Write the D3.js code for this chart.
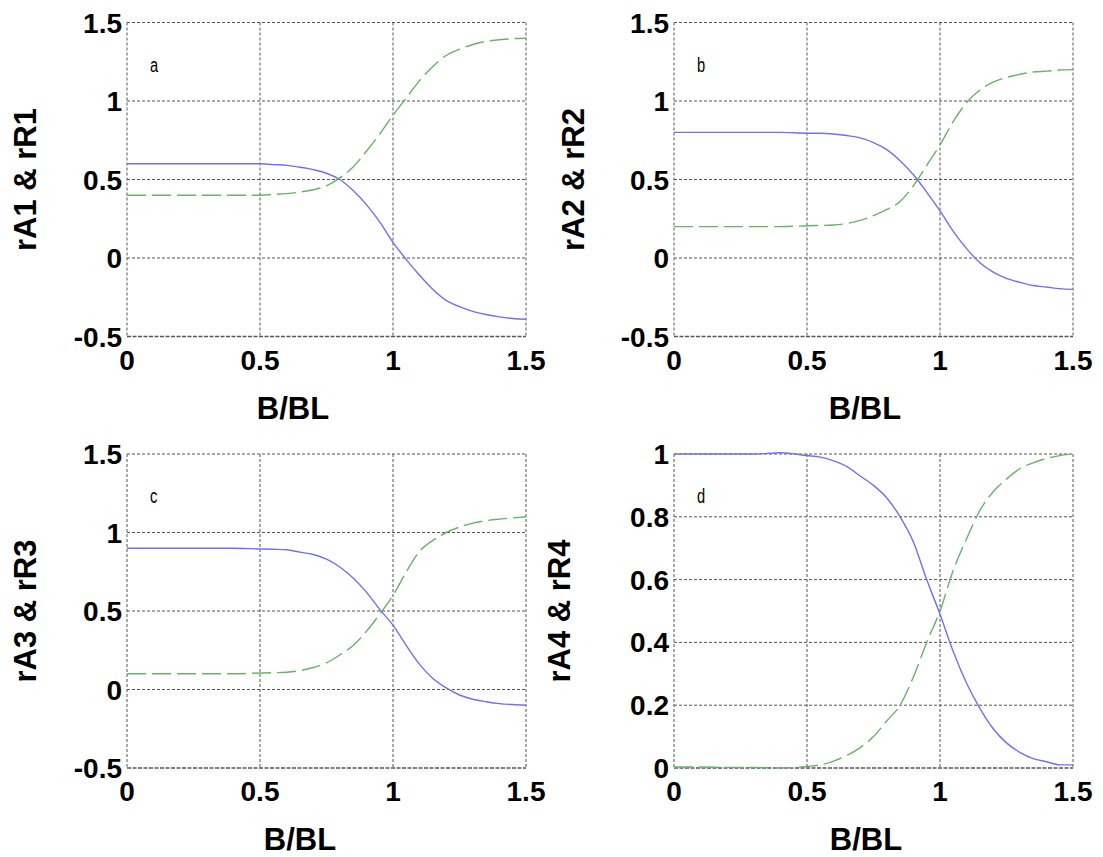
<!DOCTYPE html>
<html>
<head>
<meta charset="utf-8">
<script src="https://cdn.jsdelivr.net/npm/d3@7"></script>
<style>
  html, body { margin: 0; padding: 0; background: #fff; }
  svg { display: block; }
  text { font-family: "Liberation Sans", Arial, sans-serif; }
</style>
</head>
<body>
<svg id="chart" width="1103" height="857"></svg>
<script>
// ---- data ----
const xVals = [0, 0.1, 0.2, 0.3, 0.4, 0.5, 0.55, 0.6, 0.65, 0.7, 0.75, 0.8, 0.85, 0.9, 0.95,
               1.0, 1.05, 1.1, 1.15, 1.2, 1.25, 1.3, 1.35, 1.4, 1.45, 1.5];

const rA1 = [0.6, 0.6, 0.6, 0.6, 0.6, 0.6, 0.595, 0.59, 0.578, 0.563, 0.54, 0.5, 0.43, 0.34, 0.23,
             0.1, -0.01, -0.11, -0.2, -0.27, -0.31, -0.34, -0.36, -0.375, -0.385, -0.39];
const rR1 = [0.4, 0.4, 0.4, 0.4, 0.4, 0.4, 0.405, 0.41, 0.42, 0.435, 0.46, 0.51, 0.58, 0.68, 0.79,
             0.91, 1.02, 1.13, 1.22, 1.29, 1.33, 1.36, 1.38, 1.39, 1.397, 1.4];

const rA2 = [0.8, 0.8, 0.8, 0.8, 0.8, 0.795, 0.795, 0.79, 0.78, 0.765, 0.735, 0.69, 0.62, 0.53, 0.42,
             0.3, 0.17, 0.06, -0.03, -0.09, -0.13, -0.155, -0.175, -0.185, -0.195, -0.2];
const rR2 = [0.2, 0.2, 0.2, 0.2, 0.2, 0.205, 0.207, 0.21, 0.22, 0.24, 0.27, 0.31, 0.36, 0.46, 0.59,
             0.72, 0.87, 0.99, 1.07, 1.12, 1.15, 1.17, 1.185, 1.19, 1.197, 1.2];

const rA3 = [0.9, 0.9, 0.9, 0.9, 0.9, 0.895, 0.893, 0.89, 0.875, 0.86, 0.83, 0.78, 0.71, 0.62, 0.51,
             0.41, 0.28, 0.16, 0.07, 0.01, -0.035, -0.062, -0.078, -0.09, -0.096, -0.1];
const rR3 = [0.1, 0.1, 0.1, 0.1, 0.1, 0.105, 0.107, 0.11, 0.12, 0.14, 0.17, 0.22, 0.28, 0.37, 0.48,
             0.6, 0.75, 0.88, 0.95, 1.0, 1.035, 1.06, 1.075, 1.085, 1.093, 1.1];

const rA4 = [1.0, 1.0, 1.0, 1.0, 1.004, 0.995, 0.99, 0.978, 0.96, 0.93, 0.9, 0.86, 0.8, 0.72, 0.6,
             0.49, 0.37, 0.27, 0.19, 0.125, 0.08, 0.05, 0.03, 0.02, 0.01, 0.01];
const rR4 = [0.003, 0.003, 0.002, 0.002, 0.0, 0.005, 0.01, 0.022, 0.04, 0.065, 0.1, 0.15, 0.2, 0.29, 0.4,
             0.5, 0.63, 0.73, 0.82, 0.88, 0.92, 0.953, 0.972, 0.986, 0.995, 1.0];

const xTicks = [0, 0.5, 1, 1.5];
const yTicksABC = [-0.5, 0, 0.5, 1, 1.5];
const yTicksD = [0, 0.2, 0.4, 0.6, 0.8, 1];

const panels = [
  { letter: 'a', ylabel: 'rA1 & rR1', blue: rA1, green: rR1, yDomain: [-0.5, 1.5], yTicks: yTicksABC,
    left: 127, right: 526, top: 22.5, bottom: 336.5, ylabX: 25, xlabX: 293 },
  { letter: 'b', ylabel: 'rA2 & rR2', blue: rA2, green: rR2, yDomain: [-0.5, 1.5], yTicks: yTicksABC,
    left: 674, right: 1073, top: 22.5, bottom: 336.5, ylabX: 573, xlabX: 865 },
  { letter: 'c', ylabel: 'rA3 & rR3', blue: rA3, green: rR3, yDomain: [-0.5, 1.5], yTicks: yTicksABC,
    left: 127, right: 526, top: 454, bottom: 768, ylabX: 25, xlabX: 300 },
  { letter: 'd', ylabel: 'rA4 & rR4', blue: rA4, green: rR4, yDomain: [0, 1], yTicks: yTicksD,
    left: 674, right: 1073, top: 454, bottom: 768, ylabX: 559, xlabX: 866 }
];

const svg = d3.select('#chart');
const gridColor = '#555';

panels.forEach(p => {
  const x = d3.scaleLinear().domain([0, 1.5]).range([p.left, p.right]);
  const y = d3.scaleLinear().domain(p.yDomain).range([p.bottom, p.top]);
  const g = svg.append('g');

  // dashed grid (also serves as the box)
  g.selectAll('line.vg').data(xTicks).join('line')
    .attr('x1', d => x(d)).attr('x2', d => x(d))
    .attr('y1', p.top).attr('y2', p.bottom)
    .attr('stroke', gridColor).attr('stroke-width', 1)
    .attr('stroke-dasharray', '3,2');
  g.selectAll('line.hg').data(p.yTicks).join('line')
    .attr('x1', p.left).attr('x2', p.right)
    .attr('y1', d => y(d)).attr('y2', d => y(d))
    .attr('stroke', gridColor)
    .attr('stroke-width', (d, i) => i === 0 ? 1.6 : 1)
    .attr('stroke-dasharray', (d, i) => i === 0 ? '4,1.5' : '3,2');

  // curves
  const pts = s => xVals.map((v, i) => [v, s[i]]);
  const line = d3.line().x(d => x(d[0])).y(d => y(d[1])).curve(d3.curveMonotoneX);
  g.append('path').attr('d', line(pts(p.green)))
    .attr('fill', 'none').attr('stroke', '#66b466').attr('stroke-width', 1.4)
    .attr('stroke-dasharray', '19,6');
  g.append('path').attr('d', line(pts(p.blue)))
    .attr('fill', 'none').attr('stroke', '#7070f4').attr('stroke-width', 1.4);

  // tick labels
  const fmt = d => String(d);
  g.selectAll('text.xt').data(xTicks).join('text')
    .attr('x', d => x(d)).attr('y', p.bottom + 33)
    .attr('text-anchor', 'middle')
    .attr('font-size', 28).attr('font-weight', 'bold')
    .text(fmt);
  g.selectAll('text.yt').data(p.yTicks).join('text')
    .attr('x', p.left - 5).attr('y', d => y(d))
    .attr('dy', '0.36em')
    .attr('text-anchor', 'end')
    .attr('font-size', 28).attr('font-weight', 'bold')
    .text(fmt);

  // axis labels
  g.append('text')
    .attr('x', p.xlabX).attr('y', p.bottom + 82)
    .attr('text-anchor', 'middle')
    .attr('font-size', 31).attr('font-weight', 'bold')
    .text('B/BL');
  g.append('text')
    .attr('transform', `translate(${p.ylabX},${(p.top + p.bottom) / 2}) rotate(-90)`)
    .attr('dy', '0.36em')
    .attr('text-anchor', 'middle')
    .attr('font-size', 31).attr('font-weight', 'bold')
    .text(p.ylabel);

  // panel letter
  g.append('text')
    .attr('transform', `translate(${p.left + 23},${p.top + 49}) scale(0.7,1)`)
    .attr('font-size', 21)
    .text(p.letter);
});
</script>
</body>
</html>
